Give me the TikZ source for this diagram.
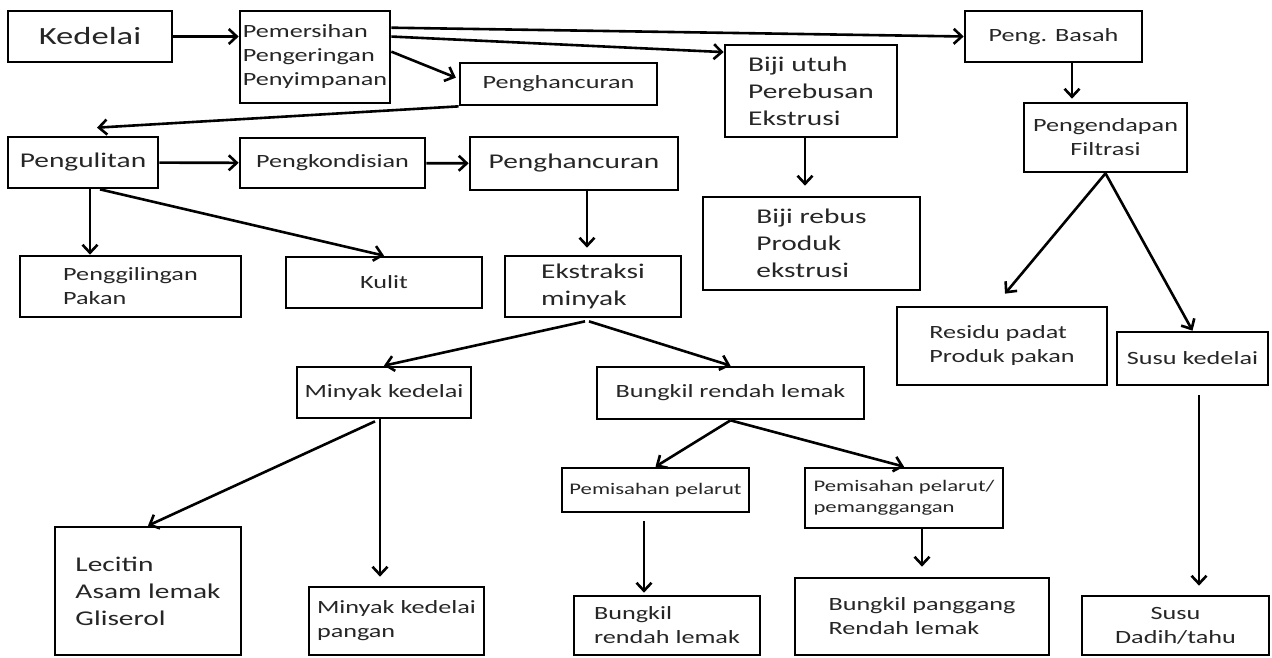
\documentclass[tikz,border=0pt]{standalone}
\usepackage{fontspec}
\setmainfont{Carlito}[FakeStretch=1.4]
\usepackage{tikz}
\usetikzlibrary{arrows.meta,calc}
\tikzset{
  blk/.style={draw, line width=2.7pt, align=center, inner sep=2pt, text=black!85},
  wh/.style 2 args={minimum width=#1pt, minimum height=#2pt},
  lg/.style={font=\fontsize{21}{27}\selectfont},
  md/.style={font=\fontsize{18.7}{24}\selectfont},
  sm/.style={font=\fontsize{16.2}{21}\selectfont},
  sig/.style={-{Straight Barb[length=8pt,width=15pt]}, line width=2.6pt},
}
\begin{document}
\begin{tikzpicture}[x=1pt,y=-1pt]
    \useasboundingbox (0,0) rectangle (1272,657);
    % baris atas
    \node[blk,wh={164}{51},font=\fontsize{24.7}{30}\selectfont] (kedelai) at (90,36.5) {Kedelai};
    \node[blk,md,align=left,wh={150}{92}] (bersih) at (315,57) {Pemersihan\\Pengeringan\\Penyimpanan};
    \node[blk,md,wh={197}{42}] (hancur1) at (558.5,84) {Penghancuran};
    \node[blk,lg,align=left,wh={172}{92}] (biji) at (811,91) {Biji utuh\\Perebusan\\Ekstrusi};
    \node[blk,md,wh={177}{51}] (basah) at (1053.5,36.5) {Peng. Basah};
    \node[blk,md,wh={163}{69}] (endap) at (1105.5,137.5) {Pengendapan\\Filtrasi};
    % baris kedua
    \node[blk,lg,wh={150}{51}] (kulit1) at (83,162.5) {Pengulitan};
    \node[blk,md,wh={185}{50}] (kondisi) at (332.5,163) {Pengkondisian};
    \node[blk,lg,wh={208}{53}] (hancur2) at (574,163.5) {Penghancuran};
    \node[blk,lg,align=left,wh={217}{93}] (rebus) at (811.5,243.5) {Biji rebus\\Produk\\ekstrusi};
    \node[blk,md,align=left,wh={221}{61}] (giling) at (130.5,286.5) {Penggilingan\\Pakan};
    \node[blk,md,wh={196}{51}] (kulit) at (384,282.5) {Kulit};
    \node[blk,lg,align=left,wh={176}{61}] (ekstrak) at (593,286.5) {Ekstraksi\\minyak};
    \node[blk,md,align=left,wh={210}{78}] (residu) at (1002,346) {Residu padat\\Produk pakan};
    \node[blk,md,wh={151}{53}] (susu) at (1192.5,358.5) {Susu kedelai};
    % minyak dan bungkil
    \node[blk,md,wh={174}{51}] (minyak) at (384,392.5) {Minyak kedelai};
    \node[blk,md,wh={267}{52}] (bungkil) at (730.5,393) {Bungkil rendah lemak};
    \node[blk,sm,wh={187}{44}] (pisah) at (655.5,490) {Pemisahan pelarut};
    \node[blk,sm,align=left,wh={198}{60}] (panggang1) at (904,498) {Pemisahan pelarut/\\pemanggangan};
    % produk akhir
    \node[blk,lg,align=left,wh={186}{128}] (lecitin) at (148,591) {Lecitin\\Asam lemak\\Gliserol};
    \node[blk,md,align=left,wh={175}{68}] (pangan) at (396.5,621) {Minyak kedelai\\pangan};
    \node[blk,md,align=left,wh={186}{59}] (rendah) at (667,625.5) {Bungkil\\rendah lemak};
    \node[blk,md,align=left,wh={254}{77}] (panggang) at (922,616.5) {Bungkil panggang\\Rendah lemak};
    \node[blk,md,wh={187}{59}] (dadih) at (1175.5,625.5) {Susu\\Dadih/tahu};

    \draw[sig] (kedelai.east) -- (kedelai.east -| bersih.west);
    \draw[sig] (bersih.21) -- (basah.west);
    \draw[sig] (bersih.15) -- (biji.156);
    \draw[sig, shorten >=3pt] (bersih.4) -- (hancur1.177);
    \draw[sig] (hancur1.south west) -- ($(kulit1.north)+(14,-8)$);
    \draw[sig] (kulit1) -- (kondisi);
    \draw[sig] (kondisi) -- (hancur2);
    \draw[sig] ($(hancur2.south)+(13,0)$) -- ($(hancur2.south |- ekstrak.north)+(13,-7)$);
    \draw[sig] ($(biji.south)+(-6,0)$) -- ($(biji.south |- rebus.north)+(-6,-10)$);
    \draw[sig] ($(basah.south)+(18.5,0)$) -- ($(basah.south |- endap.north)+(18.5,-3)$);
    \draw[sig] (endap.south) -- ($(residu.north)+(3,-12)$);
    \draw[sig] (endap.south) -- (susu.north);
    \draw[sig] ($(susu.south)+(6.5,9)$) -- ($(susu.south |- dadih.north)+(6.5,-9)$);
    \draw[sig] ($(kulit1.south)+(7,0)$) -- ($(kulit1.south |- giling.north)+(7,0)$);
    \draw[sig] ($(kulit1.south)+(17,0)$) -- (kulit.north);
    \draw[sig] ($(ekstrak.south)+(-8,3)$) -- (minyak.north);
    \draw[sig] ($(ekstrak.south)+(-4,3)$) -- (bungkil.north);
    \draw[sig] ($(minyak.south)+(-4,0)$) -- ($(minyak.south |- pangan.north)+(-4,-9)$);
    \draw[sig] ($(minyak.south)+(-9,2)$) -- (lecitin.north);
    \draw[sig] (bungkil.south) -- (pisah.north);
    \draw[sig] (bungkil.south) -- (panggang1.north);
    \draw[sig] ($(pisah.south)+(-11.5,8)$) -- ($(pisah.south |- rendah.north)+(-11.5,-2)$);
    \draw[sig] ($(panggang1.south)+(18,0)$) -- ($(panggang1.south |- panggang.north)+(18,-10)$);
\end{tikzpicture}
\end{document}
